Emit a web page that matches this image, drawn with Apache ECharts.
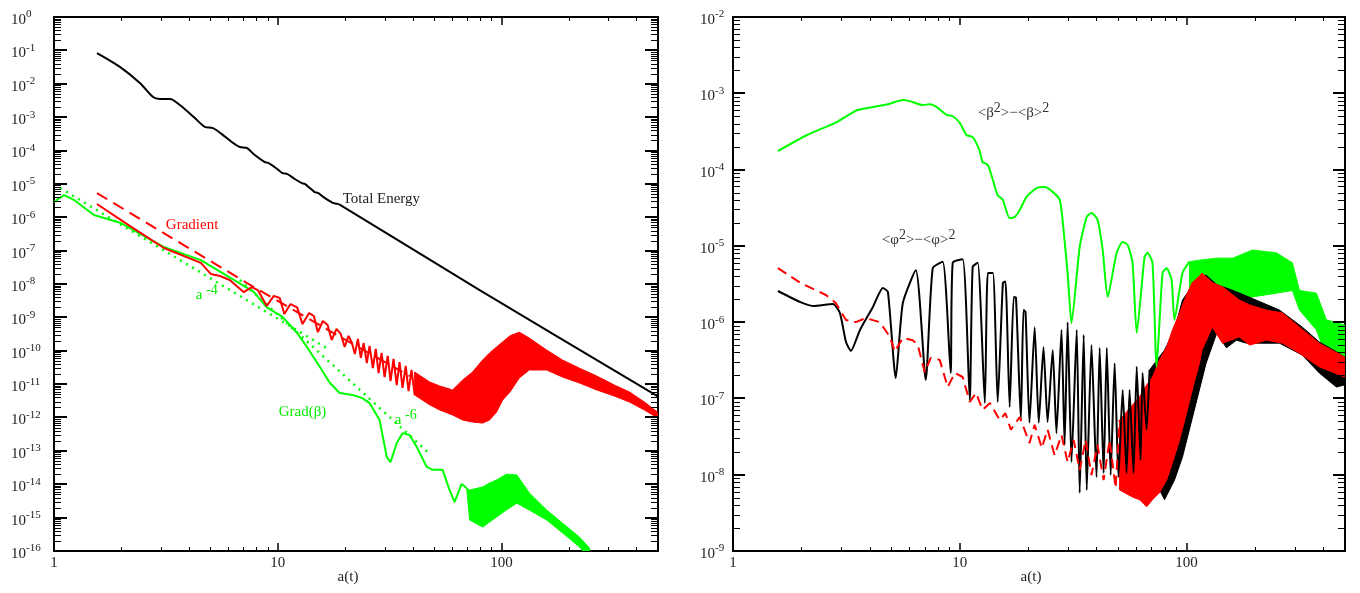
<!DOCTYPE html>
<html>
<head>
<meta charset="utf-8">
<script src="https://cdn.jsdelivr.net/npm/echarts@6/dist/echarts.min.js"></script>
<style>
  html, body { margin: 0; padding: 0; background: #fff; }
  #chart { width: 1360px; height: 593px; }
</style>
</head>
<body>
<div id="chart"></div>
<script>
// ---------- tick labels ----------
const xTickLabels = ['1', '10', '100'];
const leftYExp = [0, -1, -2, -3, -4, -5, -6, -7, -8, -9, -10, -11, -12, -13, -14, -15, -16];
const rightYExp = [-2, -3, -4, -5, -6, -7, -8, -9];

// ---------- left panel ----------
// total energy
const energyA = [1.556, 1.97, 2.42, 2.77, 2.97, 3.30, 3.65, 4.26, 4.72, 5.13, 5.62, 6.23, 6.77, 7.27, 7.89, 8.75, 9.02, 9.80, 10.5, 11.0, 11.9, 12.8, 13.2, 13.9, 14.6, 15.1, 16.2, 17.6, 18.3, 18.9, 79.8, 497];
const energyY = [8.3e-2, 3.2e-2, 1.05e-2, 4.0e-3, 3.5e-3, 3.5e-3, 2.3e-3, 9.4e-4, 5.1e-4, 4.7e-4, 3.1e-4, 1.8e-4, 1.27e-4, 1.19e-4, 7.3e-5, 4.5e-5, 4.3e-5, 3.0e-5, 2.1e-5, 2.0e-5, 1.4e-5, 1.06e-5, 1.0e-5, 7.5e-6, 5.7e-6, 5.4e-6, 3.8e-6, 2.7e-6, 2.55e-6, 2.4e-6, 6.6e-9, 4.4e-12];

// gradient energy (solid) and its early dashed companion
const gradA = [1.556, 2.18, 3.10, 4.53, 5.02, 5.51, 6.10, 7.05, 7.65, 8.14, 8.93, 9.60, 10.2, 10.7, 11.4, 12.2, 12.9, 13.8, 14.5, 15.1, 15.9, 16.7, 17.4, 18.3, 19.1, 19.9, 20.7, 21.4, 22.1,
  22.8, 23.5, 24.2, 25.0, 25.7, 26.6, 27.4, 28.2, 29.1, 30.0, 31.0, 31.9, 32.9, 34.0, 35.0, 36.1, 37.3, 38.4, 39.6, 40.9];
const gradY = [2.5e-6, 5.5e-7, 1.2e-7, 4.3e-8, 2.0e-8, 1.74e-8, 1.32e-8, 5.7e-9, 8.1e-9, 6.6e-9, 2.2e-9, 4.4e-9, 3.8e-9, 1.26e-9, 2.5e-9, 2.0e-9, 6.3e-10, 1.35e-9, 1.1e-9, 3.6e-10, 7.8e-10, 5.9e-10, 2.1e-10, 4.5e-10, 3.2e-10, 1.3e-10, 2.8e-10, 1.8e-10, 8.0e-11,
  2.25e-10, 6.1e-11, 1.7e-10, 4.3e-11, 1.39e-10, 3.0e-11, 1.13e-10, 2.15e-11, 8.6e-11, 1.63e-11, 7.0e-11, 1.24e-11, 5.7e-11, 9.4e-12, 4.6e-11, 7.7e-12, 3.5e-11, 6.2e-12, 2.65e-11, 4.7e-12];
const gradBandA = [40.9, 47.7, 52.9, 60.4, 67.0, 74.2, 82.3, 88.4, 95.0, 101, 109, 120, 133, 159, 187, 223, 266, 319, 373, 435, 497];
const gradBandHi = [2.3e-11, 1.16e-11, 8.8e-12, 6.7e-12, 1.33e-11, 2.3e-11, 5.3e-11, 8.6e-11, 1.3e-10, 1.83e-10, 2.8e-10, 3.6e-10, 2.4e-10, 1.05e-10, 5.3e-11, 3.0e-11, 1.75e-11, 9.4e-12, 5.8e-12, 2.9e-12, 1.46e-12];
const gradBandLo = [4.7e-12, 2.4e-12, 1.68e-12, 1.19e-12, 8.4e-13, 7.3e-13, 6.8e-13, 8.4e-13, 1.46e-12, 3.3e-12, 5.8e-12, 1.53e-11, 2.65e-11, 2.65e-11, 1.63e-11, 1.08e-11, 6.7e-12, 4.4e-12, 2.9e-12, 1.68e-12, 9.7e-13];
const gradDashA = [1.556, 7.81, 17.1, 38.8];
const gradDashY = [5.3e-6, 8.1e-9, 3.9e-10, 1.75e-11];

// Grad(beta)
const gbA = [1.0, 1.108, 1.228, 1.509, 1.99, 3.10, 4.53, 6.36, 7.81, 8.93, 10.5, 12.2, 13.5, 15.4, 17.1, 18.9, 21.6, 23.9, 25.7, 28.5, 30.7, 31.9, 34.0, 36.1, 38.8, 41.8, 46.3, 49.2, 54.5, 58.6, 61.7, 66.3, 69.8];
const gbY = [2.9e-6, 4.6e-6, 3.3e-6, 1.17e-6, 6.7e-7, 1.28e-7, 5.2e-8, 1.32e-8, 5.8e-9, 2.0e-9, 1.03e-9, 3.4e-10, 1.3e-10, 3.3e-11, 1.08e-11, 5.4e-12, 4.7e-12, 3.8e-12, 2.7e-12, 8.4e-13, 6.5e-14, 4.6e-14, 1.72e-13, 3.4e-13, 3.0e-13, 1.3e-13, 3.3e-14, 2.7e-14, 2.7e-14, 6.7e-15, 2.9e-15, 1.02e-14, 7.7e-15];
const gbBandA = [69.8, 72.0, 82.3, 88.4, 95.0, 105, 117, 133, 159, 187, 223, 247];
const gbBandHi = [7.7e-15, 6.7e-15, 8.3e-15, 1.09e-14, 1.34e-14, 2.0e-14, 1.9e-14, 5.5e-15, 1.69e-15, 6.9e-16, 2.6e-16, 1.23e-16];
const gbBandLo = [7.7e-15, 8.5e-16, 5.2e-16, 7.4e-16, 1.04e-15, 1.69e-15, 2.7e-15, 1.69e-15, 8.5e-16, 3.5e-16, 1.32e-16, 5.4e-17];

// power-law guides
const fit4A = [1.064, 17.1];
const fit4Y = [7.5e-6, 1.05e-10];
const fit6A = [6.77, 46.7];
const fit6Y = [1.32e-8, 9.3e-14];

const leftNoteX = [19.5, 3.16, 4.30, 10.1, 33.3];
const leftNoteY = [3.5e-6, 5.9e-7, 4.7e-9, 1.46e-12, 8.4e-13];
const leftNoteText = ['{b|Total Energy}', '{b|Gradient}', '{b|a }{s|-4}', '{b|Grad(β)}', '{b|a }{s|-6}'];
const leftNoteColor = ['#222', '#ff0000', '#00ee00', '#00ee00', '#00ee00'];

// ---------- right panel ----------
const betaA = [1.578, 2.12, 2.87, 3.52, 4.14, 4.82, 5.61, 6.02, 6.87, 7.38, 7.92, 8.76, 9.31, 10.0, 10.7, 11.4, 12.2, 12.6, 13.3, 14.0, 14.7, 15.5, 16.6, 17.5, 18.4, 19.7, 21.8, 23.7, 25.7, 27.6, 28.4, 29.9, 31.1, 33.8, 36.3, 38.1, 40.5, 42.7, 44.9, 49.2, 52.3, 55.0, 57.8, 60.3, 65.3, 67.3, 70.8, 73.8, 78.4, 81.7, 85.9, 88.5, 96.0, 103];
const betaY = [1.75e-4, 2.84e-4, 4.2e-4, 6.0e-4, 6.6e-4, 7.2e-4, 8.17e-4, 7.9e-4, 7.0e-4, 7.2e-4, 6.6e-4, 5.2e-4, 5.0e-4, 4.1e-4, 2.84e-4, 2.67e-4, 1.81e-4, 1.26e-4, 1.15e-4, 7.3e-5, 4.6e-5, 4.0e-5, 2.3e-5, 2.4e-5, 2.95e-5, 4.4e-5, 5.7e-5, 5.9e-5, 5.1e-5, 4.0e-5, 2.2e-5, 4.4e-6, 9.7e-7, 9.7e-6, 2.4e-5, 2.7e-5, 2.2e-5, 8.8e-6, 2.14e-6, 8.1e-6, 1.12e-5, 1.03e-5, 6.0e-6, 7.2e-7, 7.1e-6, 8.1e-6, 6.0e-6, 2.6e-7, 4.4e-6, 5.1e-6, 3.6e-6, 1.07e-6, 4.4e-6, 6.2e-6];
const betaBandA = [103, 114, 136, 160, 195, 249, 293, 315, 374, 414, 497];
const betaBandHi = [6.2e-6, 6.5e-6, 6.9e-6, 6.9e-6, 8.8e-6, 8.1e-6, 6.0e-6, 2.6e-6, 2.4e-6, 1.07e-6, 9.2e-7];
const betaBandLo = [2.6e-6, 2.9e-6, 2.4e-6, 1.78e-6, 2.14e-6, 2.4e-6, 2.6e-6, 1.44e-6, 7.9e-7, 3.5e-7, 3.0e-7];

const phiA = [1.578, 1.973, 2.25, 2.76, 2.96, 3.15, 3.31, 3.63, 4.14, 4.58, 4.82, 5.22, 5.61, 6.40, 7.08, 7.60, 8.41, 9.12, 9.31, 10.3, 11.07, 11.4, 12.0, 12.9, 13.3, 14.0, 14.7, 15.5, 15.9, 16.6, 17.3, 17.7, 18.6, 19.1, 19.5, 20.3, 21.4, 22.3, 23.4, 24.4, 25.7, 26.7, 28.1, 29.0, 29.9, 31.1, 32.8, 33.8, 35.2, 36.3, 38.1, 40.1, 41.4, 43.1, 44.5, 46.3, 48.2, 50.1, 52.3, 54.4, 56.1, 58.4, 60.3, 62.7, 64.0, 66.7, 68.7];
const phiY = [2.56e-6, 1.84e-6, 1.63e-6, 1.73e-6, 1.32e-6, 5.5e-7, 4.2e-7, 7.9e-7, 1.58e-6, 2.8e-6, 2.5e-6, 1.85e-7, 1.78e-6, 4.8e-6, 1.75e-7, 5.1e-6, 6.2e-6, 2.16e-7, 6.0e-6, 6.7e-6, 9.5e-8, 5.3e-6, 6.0e-6, 8.7e-8, 4.4e-6, 4.4e-6, 9.0e-8, 3.3e-6, 3.4e-6, 7.7e-8, 2.14e-6, 2.1e-6, 5.2e-8, 1.44e-6, 1.36e-6, 4.8e-8, 8.6e-7, 4.8e-8, 4.7e-7, 4.9e-8, 4.3e-7, 3.5e-8, 7.9e-7, 2.45e-8, 1.0e-6, 1.47e-8, 7.9e-7, 5.8e-9, 6.8e-7, 6.3e-9, 5.0e-7, 9.3e-9, 4.6e-7, 1.05e-8, 4.6e-7, 9.9e-9, 2.9e-7, 9.3e-9, 1.29e-7, 1.05e-8, 1.29e-7, 1.05e-8, 2.6e-7, 1.56e-8, 2.16e-7, 3.9e-8, 2.36e-7];
const phiBandA = [68.7, 80.0, 88.5, 96.0, 111, 122, 136, 150, 166, 184, 257, 324, 385, 458, 497];
const phiBandHi = [2.36e-7, 4.3e-7, 7.9e-7, 1.95e-6, 3.6e-6, 4.15e-6, 3.1e-6, 2.8e-6, 2.5e-6, 2.2e-6, 1.44e-6, 8.6e-7, 5.5e-7, 4.1e-7, 3.5e-7];
const phiBandLo = [1.15e-8, 4.7e-9, 8.5e-9, 1.71e-8, 9.5e-8, 2.9e-7, 7.2e-7, 4.6e-7, 5.8e-7, 5.3e-7, 5.3e-7, 3.7e-7, 2.16e-7, 1.41e-7, 1.5e-7];

const phiRedA = [1.578, 1.973, 2.57, 2.84, 3.15, 3.48, 3.85, 4.44, 4.92, 5.17, 5.61, 6.21, 6.53, 7.01, 7.45, 8.16, 8.85, 9.51, 10.3, 11.07, 11.8, 12.6, 13.6, 15.0, 15.9, 16.8, 18.4, 20.3, 21.4, 23.0, 24.4, 26.2, 28.1, 29.9, 31.8, 33.8, 35.9, 38.1, 40.5, 43.1, 45.8, 48.7, 50.7];
const phiRedY = [5.1e-6, 3.3e-6, 2.27e-6, 1.78e-6, 1.07e-6, 1.0e-6, 1.13e-6, 1.0e-6, 6.4e-7, 4.1e-7, 6.2e-7, 5.8e-7, 5.0e-7, 2.2e-7, 3.4e-7, 3.2e-7, 1.41e-7, 2.16e-7, 1.91e-7, 9.0e-8, 1.18e-7, 7.1e-8, 8.7e-8, 5.2e-8, 6.4e-8, 3.9e-8, 5.7e-8, 2.6e-8, 4.5e-8, 2.24e-8, 3.9e-8, 1.8e-8, 3.3e-8, 1.47e-8, 2.85e-8, 1.15e-8, 2.85e-8, 9.9e-9, 2.45e-8, 8.5e-9, 2.85e-8, 6.7e-9, 5.2e-8];
const phiRedBandA = [50.7, 57.8, 62.1, 66.7, 70.8, 76.0, 81.7, 86.7, 93.2, 100, 106, 114, 117, 130, 144, 171, 190, 225, 265, 315, 385, 497];
const phiRedBandHi = [5.2e-8, 8.2e-8, 1.05e-7, 1.5e-7, 1.91e-7, 3.2e-7, 4.7e-7, 7.9e-7, 1.32e-6, 2.27e-6, 3.3e-6, 4.0e-6, 4.4e-6, 3.3e-6, 2.9e-6, 1.95e-6, 1.68e-6, 1.44e-6, 1.32e-6, 8.6e-7, 5.3e-7, 3.5e-7];
const phiRedBandLo = [6.3e-9, 5.1e-9, 4.7e-9, 3.8e-9, 4.7e-9, 5.8e-9, 8.5e-9, 1.43e-8, 2.85e-8, 6.4e-8, 1.29e-7, 2.9e-7, 4.3e-7, 8.6e-7, 5.3e-7, 6.4e-7, 5.0e-7, 5.8e-7, 5.3e-7, 3.9e-7, 2.6e-7, 1.91e-7];

const rightNoteX = [12.0, 4.53];
const rightNoteY = [5.5e-4, 1.19e-5];
const rightNoteText = ['{b|<β}{s|2}{b|>−<β>}{s|2}', '{b|<φ}{s|2}{b|>−<φ>}{s|2}'];
const rightNoteColor = ['#333', '#333'];

// ---------- helpers ----------
const FONT = '"Liberation Serif", "DejaVu Serif", serif';
const GREEN = '#00ff00', RED = '#ff0000', BLACK = '#000000';

const pairs = (xs, ys) => xs.map((x, i) => [x, ys[i]]);

function line(gi, xs, ys, color, type, width, smooth) {
  return {
    type: 'line', xAxisIndex: gi, yAxisIndex: gi, data: pairs(xs, ys),
    showSymbol: false, silent: true, animation: false, smooth: smooth || false,
    lineStyle: { color: color, width: width || 2, type: type || 'solid' }
  };
}

// filled envelope for the densely oscillating parts
function band(gi, xs, lo, hi, color) {
  const rows = xs.map((x, i) => [x, lo[i], hi[i]]);
  return {
    type: 'custom', xAxisIndex: gi, yAxisIndex: gi, clip: true, silent: true, animation: false,
    data: rows, encode: { x: 0, y: [1, 2] },
    renderItem(params, api) {
      if (params.dataIndex !== 0) return null;
      const top = rows.map(r => api.coord([r[0], r[2]]));
      const bot = rows.map(r => api.coord([r[0], r[1]])).reverse();
      return { type: 'polygon', shape: { points: top.concat(bot) }, style: { fill: color, stroke: color, lineWidth: 1 } };
    }
  };
}

function notes(gi, xs, ys, texts, colors) {
  return {
    type: 'custom', xAxisIndex: gi, yAxisIndex: gi, clip: false, silent: true, animation: false, z: 20,
    data: xs.map((x, i) => [x, ys[i], i]),
    renderItem(params, api) {
      const i = params.dataIndex;
      const p = api.coord([xs[i], ys[i]]);
      const c = colors[i];
      return {
        type: 'text', x: p[0], y: p[1],
        style: {
          text: texts[i], align: 'left', verticalAlign: 'middle',
          rich: {
            b: { fill: c, fontSize: 15, fontFamily: FONT, lineHeight: 24 },
            s: { fill: c, fontSize: 14, fontFamily: FONT, lineHeight: 14, verticalAlign: 'top' }
          }
        }
      };
    }
  };
}

function logTicks(lo, hi, maxVal) {
  const major = [], minor = [];
  for (let e = lo; e <= hi; e++) {
    major.push(Math.pow(10, e));
    for (let k = 2; k <= 9; k++) {
      const v = k * Math.pow(10, e);
      if (v <= maxVal * 1.0001) minor.push(v);
    }
  }
  return { major: major.filter(v => v <= maxVal * 1.0001), minor: minor };
}

// frame ticks (all four sides) and decade labels on the y axis
function frame(gi, xT, yT, yExp, xRef, yRef, labelGap, yMajLen) {
  return {
    type: 'custom', xAxisIndex: gi, yAxisIndex: gi, clip: false, silent: true, animation: false, z: 15,
    data: [[xRef, yRef]],
    renderItem(params, api) {
      const cs = params.coordSys;
      const L = cs.x, T = cs.y, R = cs.x + cs.width, B = cs.y + cs.height;
      const kids = [];
      const seg = (x1, y1, x2, y2, w) => kids.push({
        type: 'line', shape: { x1: x1, y1: y1, x2: x2, y2: y2 }, style: { stroke: '#000', lineWidth: w }
      });
      xT.major.forEach(v => { const x = Math.round(api.coord([v, yRef])[0]); seg(x, B, x, B - 8, 1.5); seg(x, T, x, T + 8, 1.5); });
      xT.minor.forEach(v => { const x = Math.round(api.coord([v, yRef])[0]) + 0.5; seg(x, B, x, B - 4, 1); seg(x, T, x, T + 4, 1); });
      yT.major.forEach(v => { const y = Math.round(api.coord([xRef, v])[1]); seg(L, y, L + yMajLen, y, 2); seg(R, y, R - yMajLen, y, 2); });
      yT.minor.forEach(v => { const y = Math.round(api.coord([xRef, v])[1]) + 0.5; seg(L, y, L + 7, y, 1); seg(R, y, R - 7, y, 1); });
      yExp.forEach(e => {
        const y = api.coord([xRef, Math.pow(10, e)])[1];
        kids.push({
          type: 'text', x: L - labelGap, y: y + 3,
          style: {
            text: '{b|10}{s|' + e + '}', align: 'left', verticalAlign: 'middle',
            rich: {
              b: { fill: '#222', fontSize: 15, fontFamily: FONT, lineHeight: 22 },
              s: { fill: '#222', fontSize: 11, fontFamily: FONT, lineHeight: 11, verticalAlign: 'top' }
            }
          }
        });
      });
      return { type: 'group', children: kids };
    }
  };
}

function xAxisOpt(gi) {
  return {
    type: 'log', gridIndex: gi, min: 1, max: 500, logBase: 10,
    axisLine: { show: false }, axisTick: { show: false }, splitLine: { show: false },
    axisLabel: {
      margin: 5, fontSize: 15, fontFamily: FONT, color: '#222', showMaxLabel: false,
      formatter: v => {
        const e = Math.log10(v);
        return Math.abs(e - Math.round(e)) < 1e-6 ? (xTickLabels[Math.round(e)] || '') : '';
      }
    },
    name: 'a(t)', nameLocation: 'middle', nameGap: 19, nameMoveOverlap: false,
    nameTextStyle: { fontSize: 15, fontFamily: FONT, color: '#222', padding: [0, 16, 0, 0] }
  };
}

function yAxisOpt(gi, min, max) {
  return {
    type: 'log', gridIndex: gi, min: min, max: max, logBase: 10,
    axisLine: { show: false }, axisTick: { show: false }, splitLine: { show: false }, axisLabel: { show: false }
  };
}

const xTicks = logTicks(0, 2, 500);
const leftYTicks = logTicks(-16, 0, 1);
const rightYTicks = logTicks(-9, -2, 1e-2);

const chart = echarts.init(document.getElementById('chart'), null, { renderer: 'canvas' });
chart.setOption({
  animation: false,
  backgroundColor: '#fff',
  grid: [
    { left: 54, top: 17, right: 702, bottom: 42, show: true, borderColor: '#000', borderWidth: 2, backgroundColor: 'transparent' },
    { left: 733, top: 17, right: 15, bottom: 42, show: true, borderColor: '#000', borderWidth: 2, backgroundColor: 'transparent' }
  ],
  xAxis: [xAxisOpt(0), xAxisOpt(1)],
  yAxis: [yAxisOpt(0, 1e-16, 1), yAxisOpt(1, 1e-9, 1e-2)],
  series: [
    // left panel
    line(0, energyA, energyY, BLACK, 'solid', 2, 0.3),
    line(0, gbA, gbY, GREEN),
    band(0, gbBandA, gbBandLo, gbBandHi, GREEN),
    line(0, fit4A, fit4Y, GREEN, [2, 5], 2.5),
    line(0, fit6A, fit6Y, GREEN, [2, 5], 2.5),
    line(0, gradDashA, gradDashY, RED, [12, 7]),
    line(0, gradA, gradY, RED),
    band(0, gradBandA, gradBandLo, gradBandHi, RED),
    frame(0, xTicks, leftYTicks, leftYExp, 10, 1e-8, 43, 13),
    notes(0, leftNoteX, leftNoteY, leftNoteText, leftNoteColor),
    // right panel
    line(1, betaA, betaY, GREEN, 'solid', 2, 0.2),
    band(1, betaBandA, betaBandLo, betaBandHi, GREEN),
    line(1, phiA, phiY, BLACK, 'solid', 2, 0.2),
    band(1, phiBandA, phiBandLo, phiBandHi, BLACK),
    line(1, phiRedA, phiRedY, RED, [10, 6]),
    band(1, phiRedBandA, phiRedBandLo, phiRedBandHi, RED),
    frame(1, xTicks, rightYTicks, rightYExp, 10, 1e-5, 33, 12),
    notes(1, rightNoteX, rightNoteY, rightNoteText, rightNoteColor)
  ]
});
</script>
</body>
</html>
